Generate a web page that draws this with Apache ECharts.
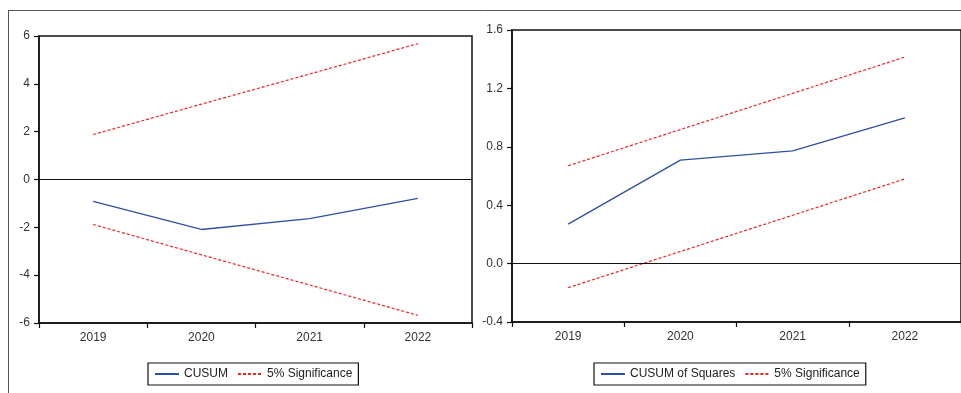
<!DOCTYPE html>
<html>
<head>
<meta charset="utf-8">
<script src="https://cdn.jsdelivr.net/npm/echarts@6/dist/echarts.min.js"></script>
<style>
html,body{margin:0;padding:0;background:#fff;}
#chart{width:961px;height:393px;}
</style>
</head>
<body>
<div id="chart"></div>
<script>
var years = ['2019', '2020', '2021', '2022'];
var cusum = [-0.91, -2.09, -1.64, -0.79];
var cusumUpper = [1.88, 3.15, 4.41, 5.68];
var cusumLower = [-1.88, -3.15, -4.41, -5.68];
var cusumSq = [0.27, 0.709, 0.772, 0.998];
var cusumSqUpper = [0.67, 0.918, 1.166, 1.415];
var cusumSqLower = [-0.165, 0.083, 0.331, 0.58];

var BLUE = '#2f4fa0';
var RED = '#ee2424';
var FONT = 'Liberation Sans, Arial, sans-serif';

function xAxis(gi) {
  return {
    type: 'category', gridIndex: gi, data: years, boundaryGap: true,
    axisLine: {show: true, onZero: false, lineStyle: {color: '#111', width: 1.5}},
    axisTick: {show: true, inside: false, length: 5, alignWithLabel: false, lineStyle: {color: '#111', width: 1.2}},
    axisLabel: {color: '#333', fontFamily: FONT, fontSize: 12, margin: 9},
    splitLine: {show: false}
  };
}
function yAxis(gi, mn, mx, iv, dec) {
  return {
    type: 'value', gridIndex: gi, min: mn, max: mx, interval: iv,
    axisLine: {show: true, lineStyle: {color: '#111', width: 1.5}},
    axisTick: {show: true, inside: false, length: 5, lineStyle: {color: '#111', width: 1.2}},
    axisLabel: {color: '#333', fontFamily: FONT, fontSize: 12, margin: 9,
      formatter: function (v) { return dec ? v.toFixed(dec) : String(Math.round(v)); }},
    splitLine: {show: false}
  };
}
function zeroLine() {
  return {silent: true, symbol: 'none', label: {show: false},
    lineStyle: {color: '#111', width: 1, type: 'solid'}, data: [{yAxis: 0}]};
}
function blueSeries(name, data, gi) {
  return {name: name, type: 'line', xAxisIndex: gi, yAxisIndex: gi, data: data,
    symbol: 'none', lineStyle: {color: BLUE, width: 1.3}, itemStyle: {color: BLUE},
    animation: false, markLine: zeroLine()};
}
function redSeries(data, gi) {
  return {name: '5% Significance', type: 'line', xAxisIndex: gi, yAxisIndex: gi, data: data,
    symbol: 'none', lineStyle: {color: RED, width: 1.2, type: [3, 2]}, itemStyle: {color: RED},
    animation: false};
}
function legend(left, names) {
  return {
    left: left, top: 363, orient: 'horizontal', data: names,
    itemWidth: 24, itemHeight: 10, itemGap: 9,
    padding: [5, 6, 5, 6],
    borderColor: '#111', borderWidth: 1.2, borderRadius: 0,
    selectedMode: false,
    itemStyle: {opacity: 0},
    lineStyle: {opacity: 1},
    textStyle: {color: '#222', fontFamily: FONT, fontSize: 12}
  };
}

var chart = echarts.init(document.getElementById('chart'), null, {renderer: 'canvas'});
chart.setOption({
  animation: false,
  backgroundColor: '#fff',
  grid: [
    {left: 39, top: 36, width: 433, height: 287, show: true, borderColor: '#111', borderWidth: 1.5},
    {left: 512, top: 30, width: 454, height: 292, show: true, borderColor: '#111', borderWidth: 1.5}
  ],
  xAxis: [xAxis(0), xAxis(1)],
  yAxis: [yAxis(0, -6, 6, 2, 0), yAxis(1, -0.4, 1.6, 0.4, 1)],
  legend: [
    legend(148, ['CUSUM', '5% Significance']),
    legend(594, ['CUSUM of Squares', '5% Significance'])
  ],
  graphic: [
    {type: 'line', silent: true, shape: {x1: 8, y1: 10.5, x2: 961, y2: 10.5}, style: {stroke: '#555', lineWidth: 1}},
    {type: 'line', silent: true, shape: {x1: 8.5, y1: 10, x2: 8.5, y2: 393}, style: {stroke: '#555', lineWidth: 1}}
  ],
  series: [
    blueSeries('CUSUM', cusum, 0),
    redSeries(cusumUpper, 0),
    redSeries(cusumLower, 0),
    blueSeries('CUSUM of Squares', cusumSq, 1),
    redSeries(cusumSqUpper, 1),
    redSeries(cusumSqLower, 1)
  ]
});
</script>
</body>
</html>
